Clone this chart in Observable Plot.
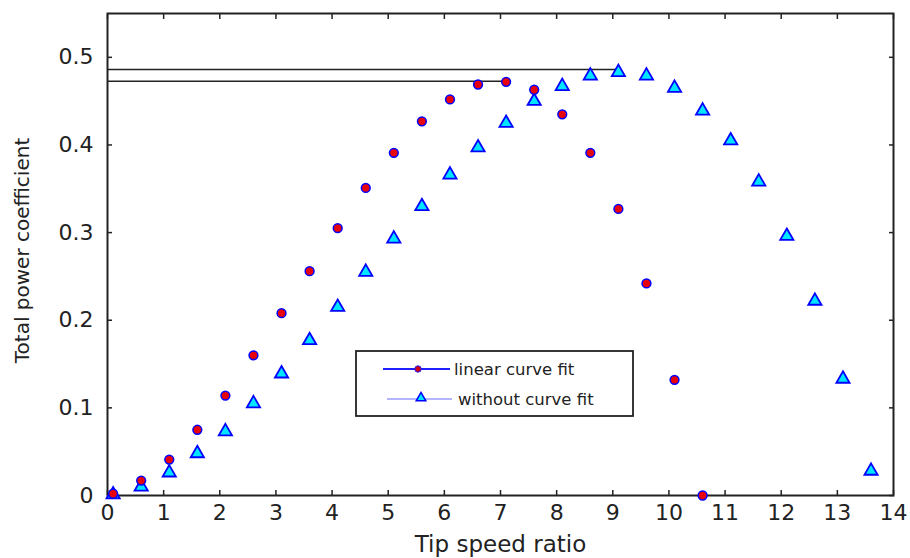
<!DOCTYPE html>
<html>
<head>
<meta charset="utf-8">
<script src="https://cdn.jsdelivr.net/npm/d3@7"></script>
<script src="https://cdn.jsdelivr.net/npm/@observablehq/plot@0.6"></script>
<style>
  html, body { margin: 0; padding: 0; background: #fff; }
  #wrap { position: relative; width: 910px; height: 558px; }
  #legend { position: absolute; left: 355px; top: 350px; }
  svg text { font-family: "DejaVu Sans", sans-serif; }
</style>
</head>
<body>
<div id="wrap"></div>
<script>
// ---- data ----
const xLinear = [0.1, 0.6, 1.1, 1.6, 2.1, 2.6, 3.1, 3.6, 4.1, 4.6, 5.1, 5.6, 6.1, 6.6, 7.1, 7.6, 8.1, 8.6, 9.1, 9.6, 10.1, 10.6];
const cpLinear = [0.002, 0.017, 0.041, 0.075, 0.114, 0.160, 0.208, 0.256, 0.305, 0.351, 0.391, 0.427, 0.452, 0.469, 0.472, 0.463, 0.435, 0.391, 0.327, 0.242, 0.132, 0.000];
const xWithout = [0.1, 0.6, 1.1, 1.6, 2.1, 2.6, 3.1, 3.6, 4.1, 4.6, 5.1, 5.6, 6.1, 6.6, 7.1, 7.6, 8.1, 8.6, 9.1, 9.6, 10.1, 10.6, 11.1, 11.6, 12.1, 12.6, 13.1, 13.6];
const cpWithout = [0.001, 0.010, 0.026, 0.048, 0.073, 0.105, 0.139, 0.177, 0.215, 0.255, 0.293, 0.330, 0.366, 0.397, 0.425, 0.450, 0.467, 0.479, 0.483, 0.479, 0.465, 0.439, 0.405, 0.358, 0.296, 0.222, 0.133, 0.028];
const peakX = [9.1, 7.1];
const peakY = [0.486, 0.4726];
const xTicks = [0, 1, 2, 3, 4, 5, 6, 7, 8, 9, 10, 11, 12, 13, 14];
const yTicks = [0, 0.1, 0.2, 0.3, 0.4, 0.5];
const yTickLabels = ["0", "0.1", "0.2", "0.3", "0.4", "0.5"];
const seriesNames = ["linear curve fit", "without curve fit"];
const xTitle = "Tip speed ratio";
const yTitle = "Total power coefficient";

const linear = xLinear.map((x, i) => ({x, y: cpLinear[i]}));
const without = xWithout.map((x, i) => ({x, y: cpWithout[i]}));
const peaks = peakX.map((x, i) => ({x, y: peakY[i]}));

const axisColor = "#222";
const chart = Plot.plot({
  width: 910,
  height: 558,
  marginLeft: 107,
  marginRight: 17,
  marginTop: 13,
  marginBottom: 63,
  style: {fontFamily: "DejaVu Sans, sans-serif", fontSize: "22px", color: axisColor, background: "#fff"},
  x: {domain: [0, 14]},
  y: {domain: [0, 0.55]},
  marks: [
    Plot.ruleY(peaks, {y: "y", x1: 0, x2: "x", stroke: "#222", strokeWidth: 1.5}),
    Plot.axisX(xTicks, {anchor: "bottom", tickSize: -5, tickPadding: 14, label: null, fontSize: 22, stroke: axisColor, strokeWidth: 1.5}),
    Plot.axisX(xTicks, {anchor: "top", tickSize: -5, tickFormat: () => "", label: null, stroke: axisColor, strokeWidth: 1.5}),
    Plot.axisY(yTicks, {anchor: "left", tickSize: -5, tickPadding: 19, tickFormat: (d) => yTickLabels[yTicks.indexOf(d)], label: null, fontSize: 22, stroke: axisColor, strokeWidth: 1.5}),
    Plot.axisY(yTicks, {anchor: "right", tickSize: -5, tickFormat: () => "", label: null, stroke: axisColor, strokeWidth: 1.5}),
    Plot.frame({stroke: axisColor, strokeWidth: 2}),
    Plot.text([xTitle], {frameAnchor: "bottom", dy: 56, text: d => d, fontSize: 23, fill: axisColor}),
    Plot.text([yTitle], {frameAnchor: "left", textAnchor: "middle", dx: -85, dy: -4, rotate: -90, text: d => d, fontSize: 20, fill: axisColor}),
    Plot.dot(without, {x: "x", y: "y", symbol: "triangle", r: 4.9, fill: "#00e5ff", stroke: "#0000ff", strokeWidth: 1.8}),
    Plot.dot(linear, {x: "x", y: "y", symbol: "circle", r: 4.4, fill: "#e8000b", stroke: "#0000ff", strokeWidth: 1.5})
  ]
});
const wrap = document.getElementById("wrap");
wrap.appendChild(chart);

// legend overlay (inside plot area, as in the reference)
const lg = d3.select(wrap).append("svg").attr("id", "legend")
  .attr("width", 280).attr("height", 68);
lg.append("rect").attr("x", 1).attr("y", 1).attr("width", 277).attr("height", 65)
  .attr("fill", "#fff").attr("stroke", "#222").attr("stroke-width", 1.8);
// entry 1
lg.append("line").attr("x1", 28).attr("x2", 95).attr("y1", 19).attr("y2", 19).attr("stroke", "#2020ff").attr("stroke-width", 2);
lg.append("circle").attr("cx", 63).attr("cy", 19).attr("r", 3.2).attr("fill", "#cc0010").attr("stroke", "#2020ff").attr("stroke-width", 1);
lg.append("text").attr("x", 99).attr("y", 25).attr("font-size", 16.5).attr("fill", "#222").text(seriesNames[0]);
// entry 2
lg.append("line").attr("x1", 32).attr("x2", 97).attr("y1", 49).attr("y2", 49).attr("stroke", "#6a6aff").attr("stroke-width", 1);
lg.append("path").attr("d", d3.symbol(d3.symbolTriangle, 40)()).attr("transform", "translate(66,48)")
  .attr("fill", "#00e5ff").attr("stroke", "#0000ff").attr("stroke-width", 1.5);
lg.append("text").attr("x", 103).attr("y", 55).attr("font-size", 16.5).attr("fill", "#222").text(seriesNames[1]);
</script>
</body>
</html>
